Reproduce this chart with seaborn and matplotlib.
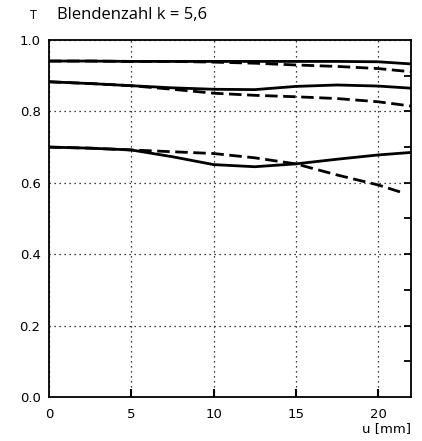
import matplotlib
matplotlib.use('Agg')
import matplotlib.pyplot as plt
import numpy as np
import pandas as pd
import seaborn as sns

u_vals = [0, 2.5, 5, 7.5, 10, 12.5, 15, 17.5, 20, 22]

top_solid = [0.941, 0.941, 0.940, 0.940, 0.940, 0.940, 0.940, 0.940, 0.939, 0.933]
top_dashed = [0.941, 0.941, 0.940, 0.940, 0.938, 0.935, 0.930, 0.926, 0.920, 0.911]
mid_solid = [0.883, 0.878, 0.872, 0.866, 0.862, 0.861, 0.870, 0.874, 0.871, 0.865]
mid_dashed = [0.883, 0.878, 0.872, 0.862, 0.851, 0.845, 0.841, 0.836, 0.827, 0.815]
low_solid = [0.700, 0.697, 0.692, 0.673, 0.651, 0.645, 0.653, 0.666, 0.678, 0.685]

u_low_dashed = [0, 2.5, 5, 7.5, 10, 12.5, 15, 17.5, 20, 21.5]
low_dashed = [0.700, 0.697, 0.692, 0.687, 0.682, 0.670, 0.653, 0.622, 0.594, 0.572]

sns.set_style('white')
plt.rcParams['font.family'] = ['DejaVu Sans']
plt.rcParams['text.color'] = 'black'
plt.rcParams['xtick.color'] = 'black'
plt.rcParams['ytick.color'] = 'black'
plt.rcParams['axes.labelcolor'] = 'black'

fig = plt.figure(figsize=(4.22, 4.41), dpi=100)
ax = fig.add_axes([0.116, 0.0998, 0.858, 0.8095])

for y in [top_solid, mid_solid, low_solid]:
    sns.lineplot(x=u_vals, y=y, ax=ax, color='black', linewidth=2.0)
for xs, y in [(u_vals, top_dashed), (u_vals, mid_dashed), (u_low_dashed, low_dashed)]:
    sns.lineplot(x=xs, y=y, ax=ax, color='black', linewidth=2.0, dashes=False,
                 linestyle=(0, (4.5, 2)))

ax.set_xlim(0, 22)
ax.set_ylim(0, 1.0)
ax.set_xticks([0, 5, 10, 15, 20])
ax.set_yticks([0.0, 0.2, 0.4, 0.6, 0.8, 1.0])
ax.set_yticklabels(['0.0', '0.2', '0.4', '0.6', '0.8', '1.0'])
ax.grid(True, linestyle=(0, (1, 3)), color='black', linewidth=0.9)
for s in ax.spines.values():
    s.set_color('black')
    s.set_linewidth(1.3)

ax.tick_params(axis='y', left=False, length=0, labelsize=9.5, pad=6)
ax.tick_params(axis='x', direction='in', bottom=True, length=6, width=1.5,
               labelsize=9.5, pad=8)
ax.xaxis.get_major_ticks()[0].tick1line.set_visible(False)

ax2 = ax.twinx()
ax2.set_ylim(0, 1.0)
ax2.set_yticks(np.arange(0.1, 1.0, 0.1))
ax2.tick_params(axis='y', direction='in', length=5, width=1.3, labelright=False)
for s in ax2.spines.values():
    s.set_visible(False)

ax.set_xlabel('u [mm]', fontsize=9.5, loc='right', labelpad=1)
ax.set_ylabel('')

fig.text(0.072, 0.964, 'T', fontsize=9, va='center', ha='left', family='Open Sans')
fig.text(0.135, 0.966, 'Blendenzahl k = 5,6', fontsize=12, va='center', ha='left',
         family='Open Sans')

fig.savefig('out.png', dpi=100)
